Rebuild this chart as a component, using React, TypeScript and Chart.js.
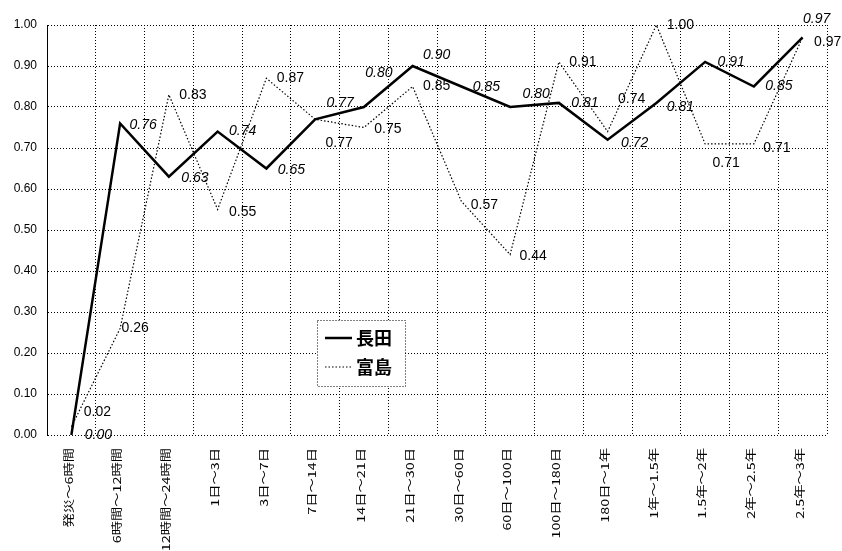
import React, { useEffect, useRef } from 'react';
import { Chart, registerables } from 'chart.js';

Chart.register(...registerables);

// Time bands since the disaster
const categories = [
  '発災〜6時間',
  '6時間〜12時間',
  '12時間〜24時間',
  '1日〜3日',
  '3日〜7日',
  '7日〜14日',
  '14日〜21日',
  '21日〜30日',
  '30日〜60日',
  '60日〜100日',
  '100日〜180日',
  '180日〜1年',
  '1年〜1.5年',
  '1.5年〜2年',
  '2年〜2.5年',
  '2.5年〜3年',
];

const nagataValues = [0.0, 0.76, 0.63, 0.74, 0.65, 0.77, 0.8, 0.9, 0.85, 0.8, 0.81, 0.72, 0.81, 0.91, 0.85, 0.97];
const tomishimaValues = [0.02, 0.26, 0.83, 0.55, 0.87, 0.77, 0.75, 0.85, 0.57, 0.44, 0.91, 0.74, 1.0, 0.71, 0.71, 0.97];

const yTickStep = 0.1;

// Where each value label sits relative to its point: [dx, dy] in px
const nagataLabelOffsets = [
  [27, 0], [23, 2], [26, 1], [25, 0], [25, 2], [25, -16], [15, -34], [24, -11],
  [25, 1], [26, -13], [26, 0], [27, 3], [24, 4], [26, 0], [25, 0], [14, -18],
];
const tomishimaLabelOffsets = [
  [26, -15], [15, 0], [24, 0], [25, 3], [24, 0], [24, 24], [24, 2], [24, 0],
  [23, 4], [23, 2], [24, 0], [24, -32], [24, 0], [21, 19], [23, 4], [25, 5],
];

const valueLabelPlugin = {
  id: 'valueLabels',
  afterDatasetsDraw(chart: any) {
    const { ctx } = chart;
    chart.data.datasets.forEach((ds: any, i: number) => {
      const meta = chart.getDatasetMeta(i);
      ctx.save();
      ctx.font = ds.labelFont;
      ctx.fillStyle = '#000';
      ctx.textAlign = 'center';
      ctx.textBaseline = 'middle';
      meta.data.forEach((pt: any, j: number) => {
        const [dx, dy] = ds.labelOffsets[j];
        ctx.fillText(Number(ds.data[j]).toFixed(2), pt.x + dx, pt.y + dy);
      });
      ctx.restore();
    });
  },
};

// Category names written vertically (reading upward), slightly stretched along the text
const verticalCategoryPlugin = {
  id: 'verticalCategories',
  afterDraw(chart: any) {
    const { ctx } = chart;
    const xScale = chart.scales.x;
    const top = xScale.top + 13;
    ctx.save();
    ctx.fillStyle = '#000';
    ctx.font = '11px "Noto Sans CJK JP"';
    ctx.textAlign = 'right';
    ctx.textBaseline = 'middle';
    chart.data.labels.forEach((label: string, i: number) => {
      const x = xScale.getPixelForTick(i) - 3;
      ctx.save();
      ctx.translate(x, top);
      ctx.rotate(-Math.PI / 2);
      ctx.scale(1.3, 1);
      ctx.fillText(label, 0, 0);
      ctx.restore();
    });
    ctx.restore();
  },
};

// Boxed legend drawn inside the plot area
const boxLegendPlugin = {
  id: 'boxLegend',
  afterDraw(chart: any) {
    const { ctx, chartArea } = chart;
    const left = chartArea.left + 270;
    const top = chartArea.top + 295;
    const w = 88;
    const h = 66;
    ctx.save();
    ctx.fillStyle = '#fff';
    ctx.fillRect(left, top, w, h);
    ctx.strokeStyle = '#000';
    ctx.lineWidth = 1;
    ctx.setLineDash([1, 2]);
    ctx.strokeRect(left + 0.5, top + 0.5, w, h);

    const rows = chart.data.datasets.map((ds: any, i: number) => ({
      label: ds.label,
      width: ds.borderWidth,
      dash: ds.borderDash || [],
      y: top + 18 + i * 29,
    }));
    rows.forEach((r: any) => {
      ctx.setLineDash(r.dash);
      ctx.lineWidth = r.width;
      ctx.beginPath();
      ctx.moveTo(left + 8, r.y);
      ctx.lineTo(left + 35, r.y);
      ctx.stroke();
      ctx.setLineDash([]);
      ctx.fillStyle = '#000';
      ctx.font = 'bold 18px "Noto Sans CJK JP"';
      ctx.textAlign = 'left';
      ctx.textBaseline = 'middle';
      ctx.fillText(r.label, left + 39, r.y);
    });
    ctx.restore();
  },
};

export default function App() {
  const canvasRef = useRef<HTMLCanvasElement | null>(null);

  useEffect(() => {
    const canvas = canvasRef.current;
    if (!canvas) return;
    const chart = new Chart(canvas, {
      type: 'line',
      data: {
        labels: categories,
        datasets: [
          {
            label: '長田',
            data: nagataValues,
            borderColor: '#000',
            borderWidth: 2.5,
            pointRadius: 0,
            tension: 0,
            labelOffsets: nagataLabelOffsets,
            labelFont: 'italic 14px "Liberation Sans"',
          } as any,
          {
            label: '富島',
            data: tomishimaValues,
            borderColor: '#000',
            borderWidth: 1.2,
            borderDash: [1.5, 2],
            pointRadius: 0,
            tension: 0,
            labelOffsets: tomishimaLabelOffsets,
            labelFont: '14px "Liberation Sans"',
          } as any,
        ],
      },
      options: {
        responsive: false,
        animation: false,
        devicePixelRatio: 1,
        layout: { padding: { top: 25, right: 15, left: 0, bottom: 0 } },
        plugins: {
          legend: { display: false },
          tooltip: { enabled: false },
        },
        scales: {
          x: {
            offset: true,
            grid: { offset: true, color: '#000', lineWidth: 1, drawTicks: false },
            border: { display: false, dash: [1, 2] },
            ticks: { display: false, autoSkip: false },
            afterFit: (scale: any) => {
              scale.height = 116;
            },
          },
          y: {
            min: 0,
            max: 1,
            grid: { color: '#000', lineWidth: 1, drawTicks: false },
            border: { display: true, color: '#000', width: 1, dash: [1, 2] },
            ticks: {
              stepSize: yTickStep,
              padding: 10,
              color: '#000',
              font: { family: '"Liberation Sans"', size: 12 },
              callback: (v: any) => Number(v).toFixed(2),
            },
            afterFit: (scale: any) => {
              scale.width = 47;
            },
          },
        },
      },
      plugins: [valueLabelPlugin, verticalCategoryPlugin, boxLegendPlugin],
    });
    return () => chart.destroy();
  }, []);

  return (
    <div style={{ position: 'absolute', left: 0, top: 0, width: 842, height: 551, background: '#fff' }}>
      <canvas ref={canvasRef} width={842} height={551} />
    </div>
  );
}
